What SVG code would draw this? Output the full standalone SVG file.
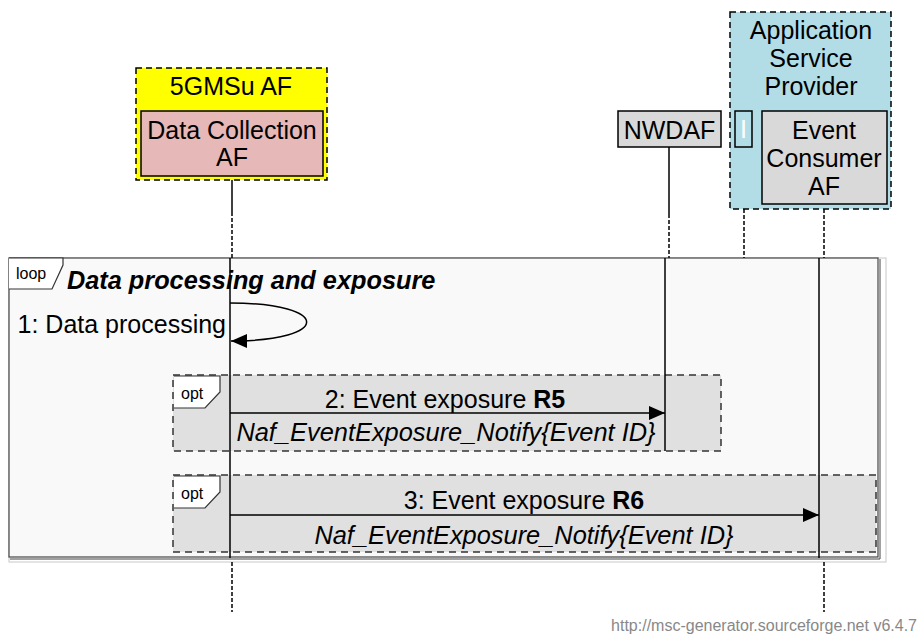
<svg xmlns="http://www.w3.org/2000/svg" width="918" height="636" viewBox="0 0 918 636">
<defs>
<style>
text{font-family:"Liberation Sans",Arial,sans-serif;fill:#000}
.lbl{font-size:25px;text-anchor:middle}
.grp{stroke:#000;stroke-width:1.5;stroke-dasharray:6,4}
.ent{stroke:#000;stroke-width:1.5}
.ll{stroke:#000;stroke-width:1.5;fill:none}
.dl{stroke:#000;stroke-width:1.5;fill:none;stroke-dasharray:4,2}
.msg{stroke:#000;stroke-width:1.5;fill:none}
.opt{fill:#e0e0e0;stroke:#333;stroke-width:1.5;stroke-dasharray:7,5}
.tag{fill:#fff;stroke:#333;stroke-width:1.2}
.tagt{font-size:16px}
</style>
<marker id="ah" viewBox="0 0 16 16" refX="16" refY="8" markerWidth="16" markerHeight="16" orient="auto" markerUnits="userSpaceOnUse">
<path d="M0,1 L16,8 L0,15 z" fill="#000"/>
</marker>
</defs>
<rect width="918" height="636" fill="#fff"/>

<g id="loop-frame">
<rect x="9" y="258" width="877" height="304" fill="none" stroke="#c8c8c8" stroke-width="1"/>
<rect x="9" y="258" width="869" height="299" fill="#f9f9f9" stroke="#444" stroke-width="1.2"/>
<polyline points="880,259 880,559 10,559" fill="none" stroke="#444" stroke-width="1"/>
<path class="tag" d="M9,258 L63,258 L63,265 L52,289 L9,289"/>
<text x="16" y="279" class="tagt">loop</text>
<text x="67" y="289" style="font-size:25.3px;font-weight:bold;font-style:italic">Data processing and exposure</text>
</g>

<g id="opt1">
<rect class="opt" x="173" y="375" width="548" height="76"/>
<path class="tag" d="M174,376 L220,376 L220,392 L205,408 L174,408"/>
<text x="181" y="399" class="tagt">opt</text>
</g>

<g id="opt2">
<rect class="opt" x="173" y="475" width="703" height="77"/>
<path class="tag" d="M174,476 L220,476 L220,492 L205,508 L174,508"/>
<text x="181" y="499" class="tagt">opt</text>
</g>

<g id="lifelines">
<line class="ll" x1="232" y1="180" x2="232" y2="212"/>
<line class="dl" x1="232" y1="212" x2="232" y2="258"/>
<line class="ll" x1="230" y1="258" x2="230" y2="558"/>
<line class="dl" x1="232" y1="562" x2="232" y2="612"/>
<line class="ll" x1="669" y1="147" x2="669" y2="214"/>
<line class="dl" x1="669" y1="214" x2="669" y2="258"/>
<line class="ll" x1="665" y1="258" x2="665" y2="451"/>
<line class="dl" x1="744" y1="209" x2="744" y2="258"/>
<line class="ll" x1="824" y1="204" x2="824" y2="209"/>
<line class="dl" x1="824" y1="209" x2="824" y2="258"/>
<line class="ll" x1="819" y1="258" x2="819" y2="558"/>
<line class="dl" x1="824" y1="562" x2="824" y2="612"/>
</g>

<g id="g-5gmsu">
<rect class="grp" x="136" y="68" width="191" height="112" fill="#ffff00"/>
<text class="lbl" x="231" y="95">5GMSu AF</text>
</g>
<g id="dcaf">
<rect class="ent" x="141" y="111" width="182" height="65" fill="#e6b8b7"/>
<text class="lbl" x="232" y="139">Data Collection</text>
<text class="lbl" x="232" y="166">AF</text>
</g>
<g id="nwdaf">
<rect class="ent" x="618" y="111" width="103" height="36" fill="#d9d9d9"/>
<text class="lbl" x="669.5" y="139">NWDAF</text>
</g>
<g id="g-asp">
<rect class="grp" x="730" y="12" width="161" height="197" fill="#b2dce6"/>
<text class="lbl" x="811" y="39">Application</text>
<text class="lbl" x="811" y="67">Service</text>
<text class="lbl" x="811" y="95">Provider</text>
</g>
<g id="i-ent">
<rect class="ent" x="735" y="111" width="17" height="36" fill="#b2dce6"/>
<text class="lbl" x="743.5" y="138" style="fill:#fff">I</text>
</g>
<g id="ecaf">
<rect class="ent" x="762" y="111" width="125" height="93" fill="#d9d9d9"/>
<text class="lbl" x="824" y="139">Event</text>
<text class="lbl" x="824" y="167">Consumer</text>
<text class="lbl" x="824" y="195">AF</text>
</g>

<g id="connectors">
<path class="msg" d="M230,303 C332,303 332,341 231,341" marker-end="url(#ah)"/>
<text x="226" y="333" style="font-size:25px;text-anchor:end">1: Data processing</text>
<line class="msg" x1="230" y1="413" x2="665" y2="413" marker-end="url(#ah)"/>
<text x="445" y="408" class="lbl">2: Event exposure <tspan font-weight="bold">R5</tspan></text>
<text x="446" y="441" class="lbl" font-style="italic" style="font-size:25.4px">Naf_EventExposure_Notify{Event ID}</text>
<line class="msg" x1="230" y1="515" x2="819" y2="515" marker-end="url(#ah)"/>
<text x="524" y="509" class="lbl">3: Event exposure <tspan font-weight="bold">R6</tspan></text>
<text x="524" y="544" class="lbl" font-style="italic" style="font-size:25.4px">Naf_EventExposure_Notify{Event ID}</text>
</g>

<text x="917" y="631" style="font-size:16px;fill:#888;text-anchor:end">http://msc-generator.sourceforge.net v6.4.7</text>
</svg>
